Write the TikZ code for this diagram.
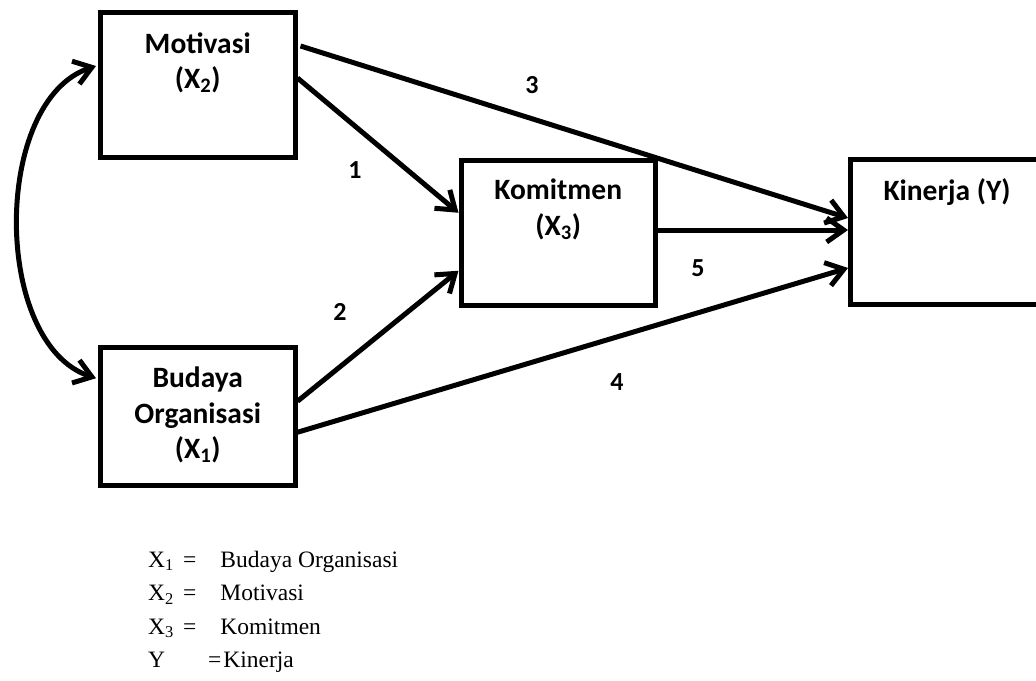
\documentclass[tikz,border=0pt]{standalone}
\usepackage{fontspec}
\setmainfont{Liberation Serif}
\newfontfamily\boxfont{Carlito}
\usetikzlibrary{arrows.meta}
\begin{document}
\begin{tikzpicture}[x=1pt,y=-1pt,
  box/.style={draw,line width=5pt,minimum width=194.5pt,inner sep=0pt},
  btext/.style={font=\boxfont\bfseries\fontsize{29.5}{35.5}\selectfont,anchor=base,inner sep=0pt},
  num/.style={font=\boxfont\bfseries\fontsize{26}{30}\selectfont,inner sep=0pt},
  leg/.style={font=\fontsize{23.5}{28}\selectfont,anchor=base west,inner sep=0pt},
  conn/.style={line width=5pt,-{Straight Barb[length=17pt,width=24pt]}},
  dconn/.style={line width=5pt,{Straight Barb[length=17pt,width=24pt]}-{Straight Barb[length=17pt,width=24pt]}}]
\useasboundingbox (0,0) rectangle (1036,680);
\clip (0,0) rectangle (1036,680);
\fill[white] (0,0) rectangle (1036,680);

% boxes
\node[box,minimum height=145pt] (mot) at (197.75,85) {};
\node[box,minimum height=137.5pt] (bud) at (197.75,416.25) {};
\node[box,minimum height=144.5pt] (kom) at (558.25,232.75) {};
\node[box,minimum height=145pt] (kin) at (947.75,232) {};

% box texts
\node[btext] (mott1) at (197.75,53) {Motivasi};
\node[btext] (mott2) at (197.75,88) {(X\textsubscript{2})};
\node[btext] (budt1) at (197.75,387) {Budaya};
\node[btext] (budt2) at (197.75,423) {Organisasi};
\node[btext] (budt3) at (197.75,458) {(X\textsubscript{1})};
\node[btext] (komt1) at (558.25,199) {Komitmen};
\node[btext] (komt2) at (558.25,235) {(X\textsubscript{3})};
\node[btext] (kint1) at (947,200) {Kinerja (Y)};

% connectors
\draw[conn] ([yshift=7pt]mot.east) -- ([yshift=20pt]kom.west);
\draw[conn] ([xshift=3pt,yshift=39pt]mot.east) -- ([yshift=14pt]kin.west);
\draw[conn] ([yshift=15pt]bud.east) -- ([yshift=-38pt]kom.west);
\draw[conn] ([yshift=-16pt]bud.east) -- ([yshift=-36pt]kin.west);
\draw[conn] ([yshift=2.75pt]kom.east) -- ([yshift=2pt]kin.west);
\draw[dconn] ([xshift=-2pt,yshift=19pt]mot.west) .. controls (-8,100) and (-8,344) .. ([xshift=-2pt,yshift=38pt]bud.west);

% path labels
\node[num] (n1) at (355,170) {1};
\node[num] (n2) at (340,312) {2};
\node[num] (n3) at (532,85) {3};
\node[num] (n4) at (617,382) {4};
\node[num] (n5) at (698,268) {5};

% legend
\node[leg] (l1) at (148,567) {\makebox[35pt][l]{X\textsubscript{1}}=\hspace{24pt}Budaya Organisasi};
\node[leg] (l2) at (148,600.5) {\makebox[35pt][l]{X\textsubscript{2}}=\hspace{24pt}Motivasi};
\node[leg] (l3) at (148,634) {\makebox[35pt][l]{X\textsubscript{3}}=\hspace{24pt}Komitmen};
\node[leg] (l4) at (148,667.5) {\makebox[60pt][l]{Y}=\hspace{2pt}Kinerja};
\end{tikzpicture}
\end{document}
